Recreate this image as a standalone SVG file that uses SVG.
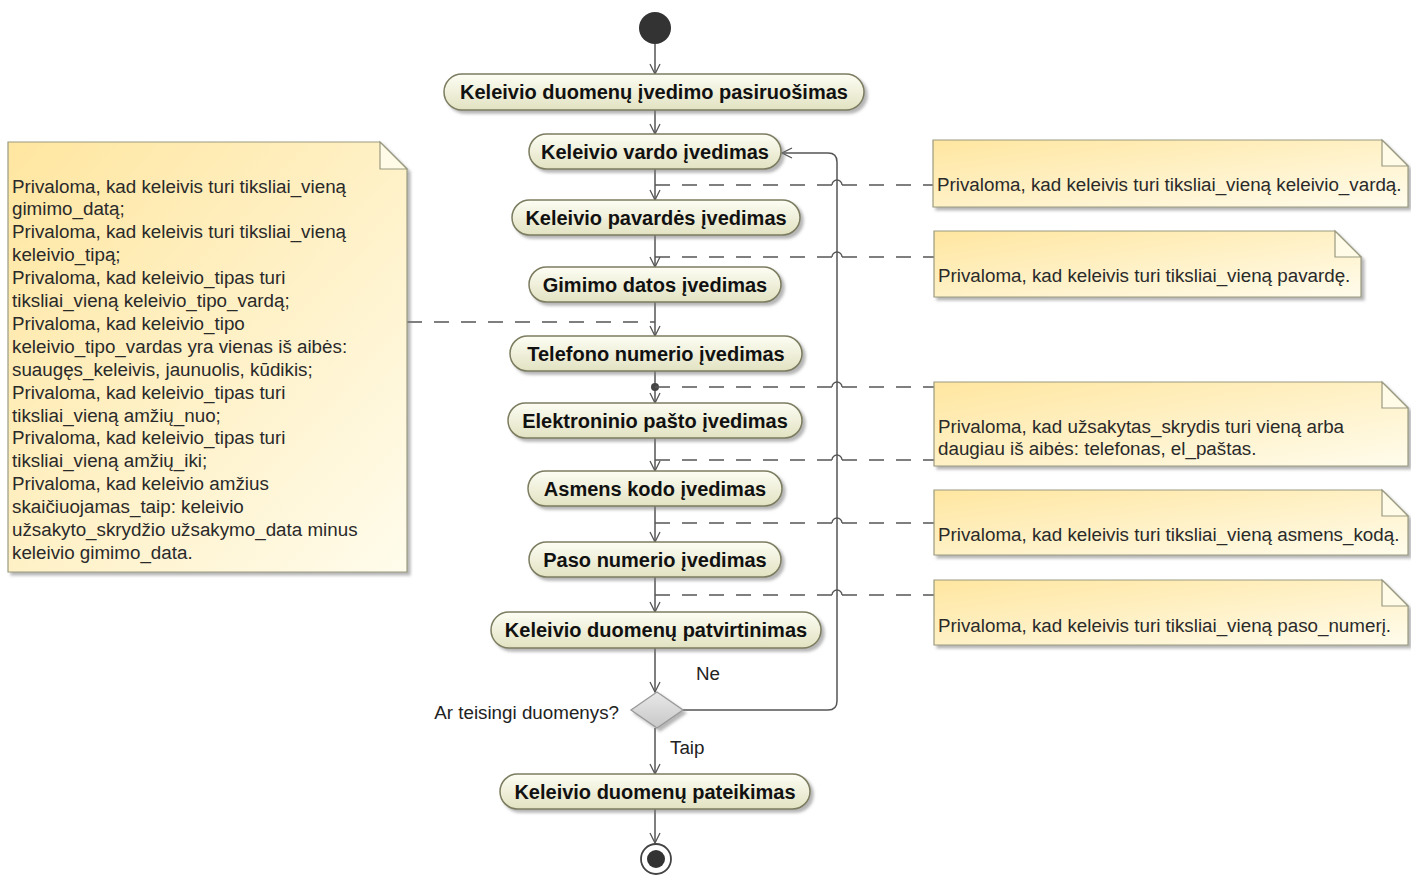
<svg xmlns="http://www.w3.org/2000/svg" width="1411" height="876" viewBox="0 0 1411 876">
  <defs>
    <linearGradient id="actFill" x1="0" y1="0" x2="0" y2="1">
      <stop offset="0" stop-color="#fdfdf4"/>
      <stop offset="1" stop-color="#e2e2c2"/>
    </linearGradient>
    <linearGradient id="noteFill" x1="0" y1="0" x2="1" y2="1">
      <stop offset="0" stop-color="#ffe6a0"/>
      <stop offset="1" stop-color="#fffcec"/>
    </linearGradient>
    <linearGradient id="decFill" x1="0" y1="0" x2="0" y2="1">
      <stop offset="0" stop-color="#e8e8e8"/>
      <stop offset="1" stop-color="#c8c8c8"/>
    </linearGradient>
    <filter id="shadow" x="-10%" y="-20%" width="130%" height="160%">
      <feDropShadow dx="3" dy="3" stdDeviation="1.5" flood-color="#7a7a7a" flood-opacity="0.55"/>
    </filter>
    <marker id="open" viewBox="0 0 12 12" refX="11" refY="6" markerWidth="12" markerHeight="12" markerUnits="userSpaceOnUse" orient="auto">
      <path d="M1,1 L11,6 L1,11" fill="none" stroke="#555" stroke-width="1.3"/>
    </marker>
  </defs>
  <style>
    .act { fill: url(#actFill); stroke: #7c7c60; stroke-width: 1.5; filter: url(#shadow); }
    .actText { font-family: "Liberation Sans", Arial, sans-serif; font-weight: bold; font-size: 20px; fill: #111; text-anchor: middle; dominant-baseline: central; }
    .note { fill: url(#noteFill); stroke: #9a9a80; stroke-width: 1.2; filter: url(#shadow); }
    .fold { fill: #fffbe6; stroke: #9a9a80; stroke-width: 1.2; }
    .noteText { font-family: "Liberation Sans", Arial, sans-serif; font-size: 18.8px; fill: #2a2a2a; dominant-baseline: central; }
    .label { font-family: "Liberation Sans", Arial, sans-serif; font-size: 18.8px; fill: #222; dominant-baseline: central; }
    .flow { fill: none; stroke: #555; stroke-width: 1.5; marker-end: url(#open); }
    .anchor { fill: none; stroke: #555; stroke-width: 1.3; stroke-dasharray: 15 12; }
    .hop { fill: none; stroke: #555; stroke-width: 1.3; }
  </style>
  <rect width="1411" height="876" fill="#ffffff"/>

  <!-- control flows and note anchors -->
  <g id="connectors">
    <line class="flow" x1="655" y1="44" x2="655" y2="74"/>
    <line class="flow" x1="655" y1="110" x2="655" y2="134"/>
    <line class="flow" x1="655" y1="169" x2="655" y2="200"/>
    <line class="flow" x1="655" y1="235" x2="655" y2="267"/>
    <line class="flow" x1="655" y1="302" x2="655" y2="336"/>
    <line class="flow" x1="655" y1="371" x2="655" y2="403"/>
    <line class="flow" x1="655" y1="438" x2="655" y2="471"/>
    <line class="flow" x1="655" y1="506" x2="655" y2="542"/>
    <line class="flow" x1="655" y1="577" x2="655" y2="612"/>
    <line class="flow" x1="655" y1="648" x2="655" y2="692"/>
    <line class="flow" x1="655" y1="728" x2="655" y2="774"/>
    <line class="flow" x1="655" y1="809" x2="655" y2="843"/>
    <!-- loop back from the decision -->
    <path class="flow" d="M682,710 H828 Q837,710 837,701 V162 Q837,153 828,153 H782"/>

    <!-- note anchors -->
    <path class="anchor" d="M655,185 H832"/><path class="anchor" d="M842,185 H934"/>
    <path class="hop" d="M832,185 A5,5 0 0 1 842,185"/>
    <path class="anchor" d="M655,257 H832"/><path class="anchor" d="M842,257 H934"/>
    <path class="hop" d="M832,257 A5,5 0 0 1 842,257"/>
    <path class="anchor" d="M407,322 H655"/>
    <circle cx="655" cy="387" r="4" fill="#444"/>
    <path class="anchor" d="M655,387 H832"/><path class="anchor" d="M842,387 H934"/>
    <path class="hop" d="M832,387 A5,5 0 0 1 842,387"/>
    <path class="anchor" d="M655,460 H832"/><path class="anchor" d="M842,460 H934"/>
    <path class="hop" d="M832,460 A5,5 0 0 1 842,460"/>
    <path class="anchor" d="M655,523 H832"/><path class="anchor" d="M842,523 H934"/>
    <path class="hop" d="M832,523 A5,5 0 0 1 842,523"/>
    <path class="anchor" d="M655,595 H832"/><path class="anchor" d="M842,595 H934"/>
    <path class="hop" d="M832,595 A5,5 0 0 1 842,595"/>

    <text class="label" x="696" y="673">Ne</text>
    <text class="label" x="670" y="747">Taip</text>
  </g>

  <g id="start">
    <circle cx="655" cy="28" r="16" fill="#333"/>
  </g>

  <g id="prep">
    <rect class="act" x="444" y="74" width="420" height="36" rx="18"/>
    <text class="actText" x="654" y="92">Keleivio duomenų įvedimo pasiruošimas</text>
  </g>
  <g id="vardas">
    <rect class="act" x="529" y="134" width="252" height="35" rx="17.5"/>
    <text class="actText" x="655" y="151.5">Keleivio vardo įvedimas</text>
  </g>
  <g id="pavarde">
    <rect class="act" x="512" y="200" width="288" height="35" rx="17.5"/>
    <text class="actText" x="656" y="217.5">Keleivio pavardės įvedimas</text>
  </g>
  <g id="gimimo">
    <rect class="act" x="529" y="267" width="252" height="35" rx="17.5"/>
    <text class="actText" x="655" y="284.5">Gimimo datos įvedimas</text>
  </g>
  <g id="telefonas">
    <rect class="act" x="510" y="336" width="292" height="35" rx="17.5"/>
    <text class="actText" x="656" y="353.5">Telefono numerio įvedimas</text>
  </g>
  <g id="pastas">
    <rect class="act" x="508" y="403" width="294" height="35" rx="17.5"/>
    <text class="actText" x="655" y="420.5">Elektroninio pašto įvedimas</text>
  </g>
  <g id="asmenskodas">
    <rect class="act" x="528" y="471" width="254" height="35" rx="17.5"/>
    <text class="actText" x="655" y="488.5">Asmens kodo įvedimas</text>
  </g>
  <g id="pasas">
    <rect class="act" x="529" y="542" width="252" height="35" rx="17.5"/>
    <text class="actText" x="655" y="559.5">Paso numerio įvedimas</text>
  </g>
  <g id="patvirtinimas">
    <rect class="act" x="491" y="612" width="330" height="36" rx="18"/>
    <text class="actText" x="656" y="630">Keleivio duomenų patvirtinimas</text>
  </g>
  <g id="decision">
    <polygon points="657,692 683,710 657,728 631,710" fill="url(#decFill)" stroke="#999" stroke-width="1.3" filter="url(#shadow)"/>
    <text class="label" x="619" y="712" text-anchor="end">Ar teisingi duomenys?</text>
  </g>
  <g id="pateikimas">
    <rect class="act" x="500" y="774" width="310" height="35" rx="17.5"/>
    <text class="actText" x="655" y="791.5">Keleivio duomenų pateikimas</text>
  </g>
  <g id="end">
    <circle cx="656" cy="859" r="15" fill="#fff" stroke="#444" stroke-width="1.8"/>
    <circle cx="656" cy="859" r="9" fill="#333"/>
  </g>

  <g id="noteLeft">
    <path class="note" d="M8,142 H380 L407,169 V572 H8 Z"/>
    <path class="fold" d="M380,142 V169 H407 Z"/>
    <text class="noteText" x="12" y="186">Privaloma, kad keleivis turi tiksliai_vieną</text>
    <text class="noteText" x="12" y="208.9">gimimo_datą;</text>
    <text class="noteText" x="12" y="231.8">Privaloma, kad keleivis turi tiksliai_vieną</text>
    <text class="noteText" x="12" y="254.7">keleivio_tipą;</text>
    <text class="noteText" x="12" y="277.6">Privaloma, kad keleivio_tipas turi</text>
    <text class="noteText" x="12" y="300.5">tiksliai_vieną keleivio_tipo_vardą;</text>
    <text class="noteText" x="12" y="323.4">Privaloma, kad keleivio_tipo</text>
    <text class="noteText" x="12" y="346.3">keleivio_tipo_vardas yra vienas iš aibės:</text>
    <text class="noteText" x="12" y="369.2">suaugęs_keleivis, jaunuolis, kūdikis;</text>
    <text class="noteText" x="12" y="392.1">Privaloma, kad keleivio_tipas turi</text>
    <text class="noteText" x="12" y="415">tiksliai_vieną amžių_nuo;</text>
    <text class="noteText" x="12" y="437.9">Privaloma, kad keleivio_tipas turi</text>
    <text class="noteText" x="12" y="460.8">tiksliai_vieną amžių_iki;</text>
    <text class="noteText" x="12" y="483.7">Privaloma, kad keleivio amžius</text>
    <text class="noteText" x="12" y="506.6">skaičiuojamas_taip: keleivio</text>
    <text class="noteText" x="12" y="529.5">užsakyto_skrydžio užsakymo_data minus</text>
    <text class="noteText" x="12" y="552.4">keleivio gimimo_data.</text>
  </g>

  <g id="noteVardas">
    <path class="note" d="M933,140 H1382 L1408,166 V207 H933 Z"/>
    <path class="fold" d="M1382,140 V166 H1408 Z"/>
    <text class="noteText" x="937" y="184">Privaloma, kad keleivis turi tiksliai_vieną keleivio_vardą.</text>
  </g>
  <g id="notePavarde">
    <path class="note" d="M934,231 H1335 L1361,257 V297 H934 Z"/>
    <path class="fold" d="M1335,231 V257 H1361 Z"/>
    <text class="noteText" x="938" y="275">Privaloma, kad keleivis turi tiksliai_vieną pavardę.</text>
  </g>
  <g id="noteKontaktai">
    <path class="note" d="M934,382 H1382 L1408,408 V466 H934 Z"/>
    <path class="fold" d="M1382,382 V408 H1408 Z"/>
    <text class="noteText" x="938" y="426">Privaloma, kad užsakytas_skrydis turi vieną arba</text>
    <text class="noteText" x="938" y="448">daugiau iš aibės: telefonas, el_paštas.</text>
  </g>
  <g id="noteAsmensKodas">
    <path class="note" d="M934,490 H1382 L1408,516 V555 H934 Z"/>
    <path class="fold" d="M1382,490 V516 H1408 Z"/>
    <text class="noteText" x="938" y="534">Privaloma, kad keleivis turi tiksliai_vieną asmens_kodą.</text>
  </g>
  <g id="notePasas">
    <path class="note" d="M934,580 H1382 L1408,606 V645 H934 Z"/>
    <path class="fold" d="M1382,580 V606 H1408 Z"/>
    <text class="noteText" x="938" y="625">Privaloma, kad keleivis turi tiksliai_vieną paso_numerį.</text>
  </g>
</svg>
